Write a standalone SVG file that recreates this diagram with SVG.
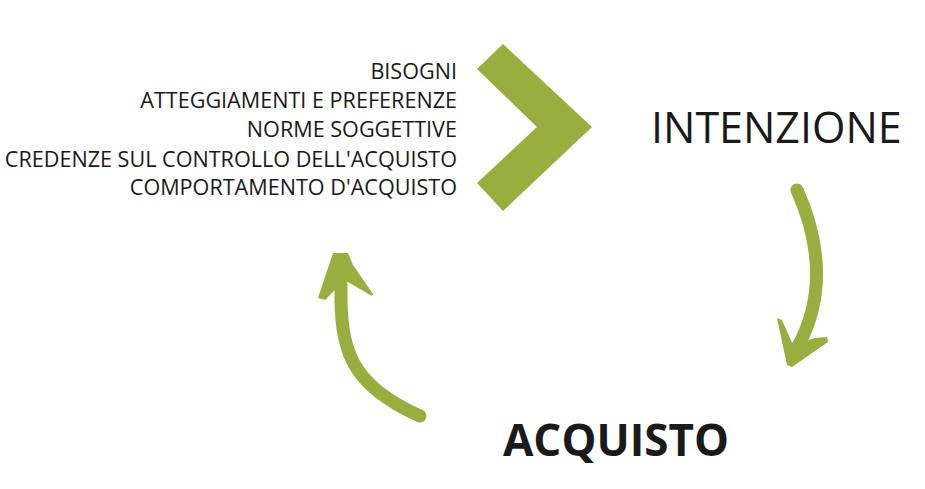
<svg xmlns="http://www.w3.org/2000/svg" width="925" height="489" viewBox="0 0 925 489">
<style>
.g{fill:#9aad3f}
.s{fill:none;stroke:#9aad3f;stroke-linecap:round}
.t{font-family:"Open Sans",sans-serif;fill:#1a1a1a}
.l{font-size:21.6px;text-anchor:end}
</style>
<rect width="925" height="489" fill="#ffffff"/>
<g id="factors">
<text class="t l" x="457" y="79">BISOGNI</text>
<text class="t l" x="457" y="108">ATTEGGIAMENTI E PREFERENZE</text>
<text class="t l" x="457" y="137">NORME SOGGETTIVE</text>
<text class="t l" x="457" y="167">CREDENZE SUL CONTROLLO DELL'ACQUISTO</text>
<text class="t l" x="457" y="195">COMPORTAMENTO D'ACQUISTO</text>
</g>
<g id="intenzione">
<text class="t" x="651" y="143" font-size="43">INTENZIONE</text>
</g>
<g id="acquisto">
<text class="t" x="503" y="456" font-size="44" font-weight="bold">ACQUISTO</text>
</g>
<g id="connectors">
<polygon class="g" points="477,69 503,44 592,127 503,211 477,183 537,127"/>
<path class="s" stroke-width="13" d="M797,190 C815,230 830,290 797,348"/>
<polygon class="g" points="777,318 782,320 793,345 815,338 827,337 828,342 792,367 787,365"/>
<path class="s" stroke-width="13" d="M341,286 C340,350 350,385 420,416"/>
<polygon class="g" points="333,253 348,253 353,265 373,294 372,296 348,282 335,290 325,300 318,298"/>
</g>
</svg>
